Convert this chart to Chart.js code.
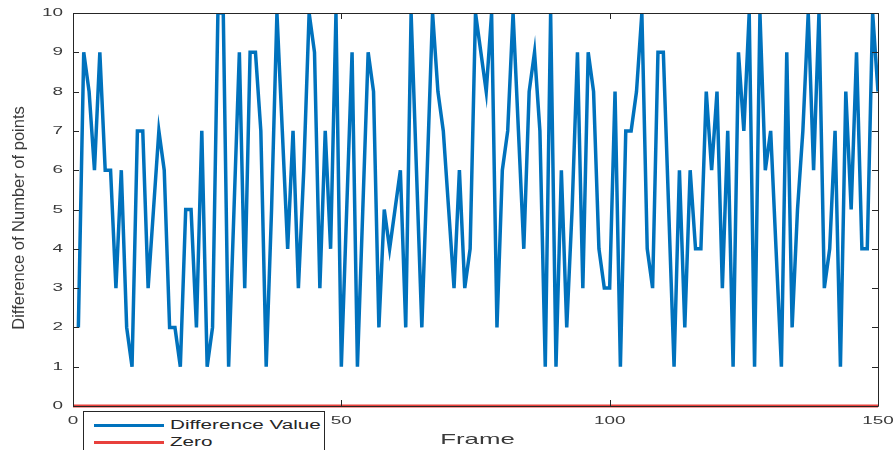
<!DOCTYPE html>
<html>
<head>
<meta charset="utf-8">
<script src="https://cdn.jsdelivr.net/npm/chart.js@4.4.1/dist/chart.umd.min.js"></script>
<style>
html,body{margin:0;padding:0;background:#fff;}
#wrap{position:relative;width:895px;height:450px;overflow:hidden;}
#legend{position:absolute;left:83px;top:411px;width:242px;height:50px;background:#fff;border:1px solid #262626;box-sizing:border-box;font-family:Arial,"Liberation Sans",sans-serif;font-size:12px;color:#262626;}
.row{position:absolute;left:0;width:240px;height:16px;line-height:16px;}
.sw{position:absolute;left:10px;top:7px;width:70px;height:3px;}
.lbl{position:absolute;left:86px;top:0;white-space:nowrap;transform:scaleX(1.72);transform-origin:0 50%;}
</style>
</head>
<body>
<div id="wrap">
<canvas id="c" width="895" height="450"></canvas>
<div id="legend">
  <div class="row" style="top:5px"><div class="sw" style="background:#0072BD"></div><div class="lbl">Difference Value</div></div>
  <div class="row" style="top:22px"><div class="sw" style="background:#e8403c"></div><div class="lbl">Zero</div></div>
</div>
</div>
<script>
// ---- data ----
const frames = Array.from({length:150}, (_, i) => i + 1);
const differenceValues = [
  2,9,8,6,9,6,6,3,6,2,
  1,7,7,3,5,7,6,2,2,1,
  5,5,2,7,1,2,10,10,1,5,
  9,3,9,9,7,1,5,10,7,4,
  7,3,6,10,9,3,7,4,10,1,
  5,9,1,5,9,8,2,5,4,5,
  6,2,10,6,2,6,10,8,7,5,
  3,6,3,4,10,9,8,10,2,6,
  7,10,7,4,8,9,7,1,10,1,
  6,2,5,9,3,9,8,4,3,3,
  8,1,7,7,8,10,4,3,9,9,
  5,1,6,2,6,4,4,8,6,8,
  3,7,1,9,7,10,1,10,6,7,
  4,1,9,2,5,7,10,6,10,3,
  4,7,1,8,5,9,4,4,10,8
];
const zeroFrames = [0, 150];
const zeroValues = [0, 0];
const xTicks = [0, 50, 100, 150];
const yTicks = [0,1,2,3,4,5,6,7,8,9,10];
const xTitle = 'Frame';
const yTitle = 'Difference of Number of points';

const diffData = frames.map((f, i) => ({x: f, y: differenceValues[i]}));
const zeroData = zeroFrames.map((f, i) => ({x: f, y: zeroValues[i]}));

const axisColor = '#262626';
const textColor = '#3a3a3a';
const SX = 1.72; // horizontal stretch of the lettering

function stretchedText(ctx, txt, x, y, align) {
  ctx.save();
  ctx.translate(x, y);
  ctx.scale(SX, 1);
  ctx.textAlign = align;
  ctx.textBaseline = 'middle';
  ctx.fillText(txt, 0, 0);
  ctx.restore();
}

const boxPlugin = {
  id: 'boxTicks',
  afterDraw(chart) {
    const {ctx, chartArea: a, scales: {x, y}} = chart;
    ctx.save();
    ctx.strokeStyle = axisColor;
    ctx.lineWidth = 1;
    ctx.beginPath();
    ctx.rect(a.left + 0.5, a.top + 0.5, a.right - a.left, a.bottom - a.top);
    ctx.stroke();
    ctx.beginPath();
    yTicks.forEach(v => {
      const py = Math.round(y.getPixelForValue(v)) + 0.5;
      ctx.moveTo(a.left, py); ctx.lineTo(a.left + 6, py);
      ctx.moveTo(a.right, py); ctx.lineTo(a.right - 6, py);
    });
    xTicks.forEach(v => {
      const px = Math.round(x.getPixelForValue(v)) + 0.5;
      ctx.moveTo(px, a.bottom); ctx.lineTo(px, a.bottom - 6);
      ctx.moveTo(px, a.top); ctx.lineTo(px, a.top + 6);
    });
    ctx.stroke();

    // tick labels
    ctx.fillStyle = textColor;
    ctx.font = '11px Arial, "Liberation Sans", sans-serif';
    yTicks.forEach(v => stretchedText(ctx, String(v), a.left - 10, y.getPixelForValue(v), 'right'));
    xTicks.forEach(v => stretchedText(ctx, String(v), x.getPixelForValue(v), a.bottom + 15, 'center'));

    // axis titles
    ctx.font = '15px Arial, "Liberation Sans", sans-serif';
    stretchedText(ctx, xTitle, (a.left + a.right) / 2 + 2, 440, 'center');

    ctx.save();
    ctx.translate(19, 218);
    ctx.rotate(-Math.PI / 2);
    ctx.font = '16.5px Arial, "Liberation Sans", sans-serif';
    ctx.textAlign = 'center';
    ctx.textBaseline = 'middle';
    ctx.fillText(yTitle, 0, 0);
    ctx.restore();
    ctx.restore();
  }
};

new Chart(document.getElementById('c'), {
  type: 'line',
  data: {
    datasets: [
      {label: 'Difference Value', data: diffData, borderColor: '#0072BD', borderWidth: 3.5, pointRadius: 0, tension: 0, fill: false, order: 2},
      {label: 'Zero', data: zeroData, borderColor: '#e8403c', borderWidth: 3, pointRadius: 0, tension: 0, fill: false, clip: false, order: 1}
    ]
  },
  options: {
    responsive: false,
    animation: false,
    layout: {padding: {left: 0, right: 17, top: 13, bottom: 0}},
    plugins: {legend: {display: false}, tooltip: {enabled: false}},
    scales: {
      x: {
        type: 'linear', min: 0, max: 150,
        afterFit(s) { s.height = 44; },
        afterBuildTicks(s) { s.ticks = xTicks.map(v => ({value: v})); },
        grid: {display: false},
        border: {display: false},
        ticks: {display: false},
        title: {display: false, text: xTitle}
      },
      y: {
        type: 'linear', min: 0, max: 10,
        afterFit(s) { s.width = 73; },
        afterBuildTicks(s) { s.ticks = yTicks.map(v => ({value: v})); },
        grid: {display: false},
        border: {display: false},
        ticks: {display: false},
        title: {display: false, text: yTitle}
      }
    }
  },
  plugins: [boxPlugin]
});
</script>
</body>
</html>
